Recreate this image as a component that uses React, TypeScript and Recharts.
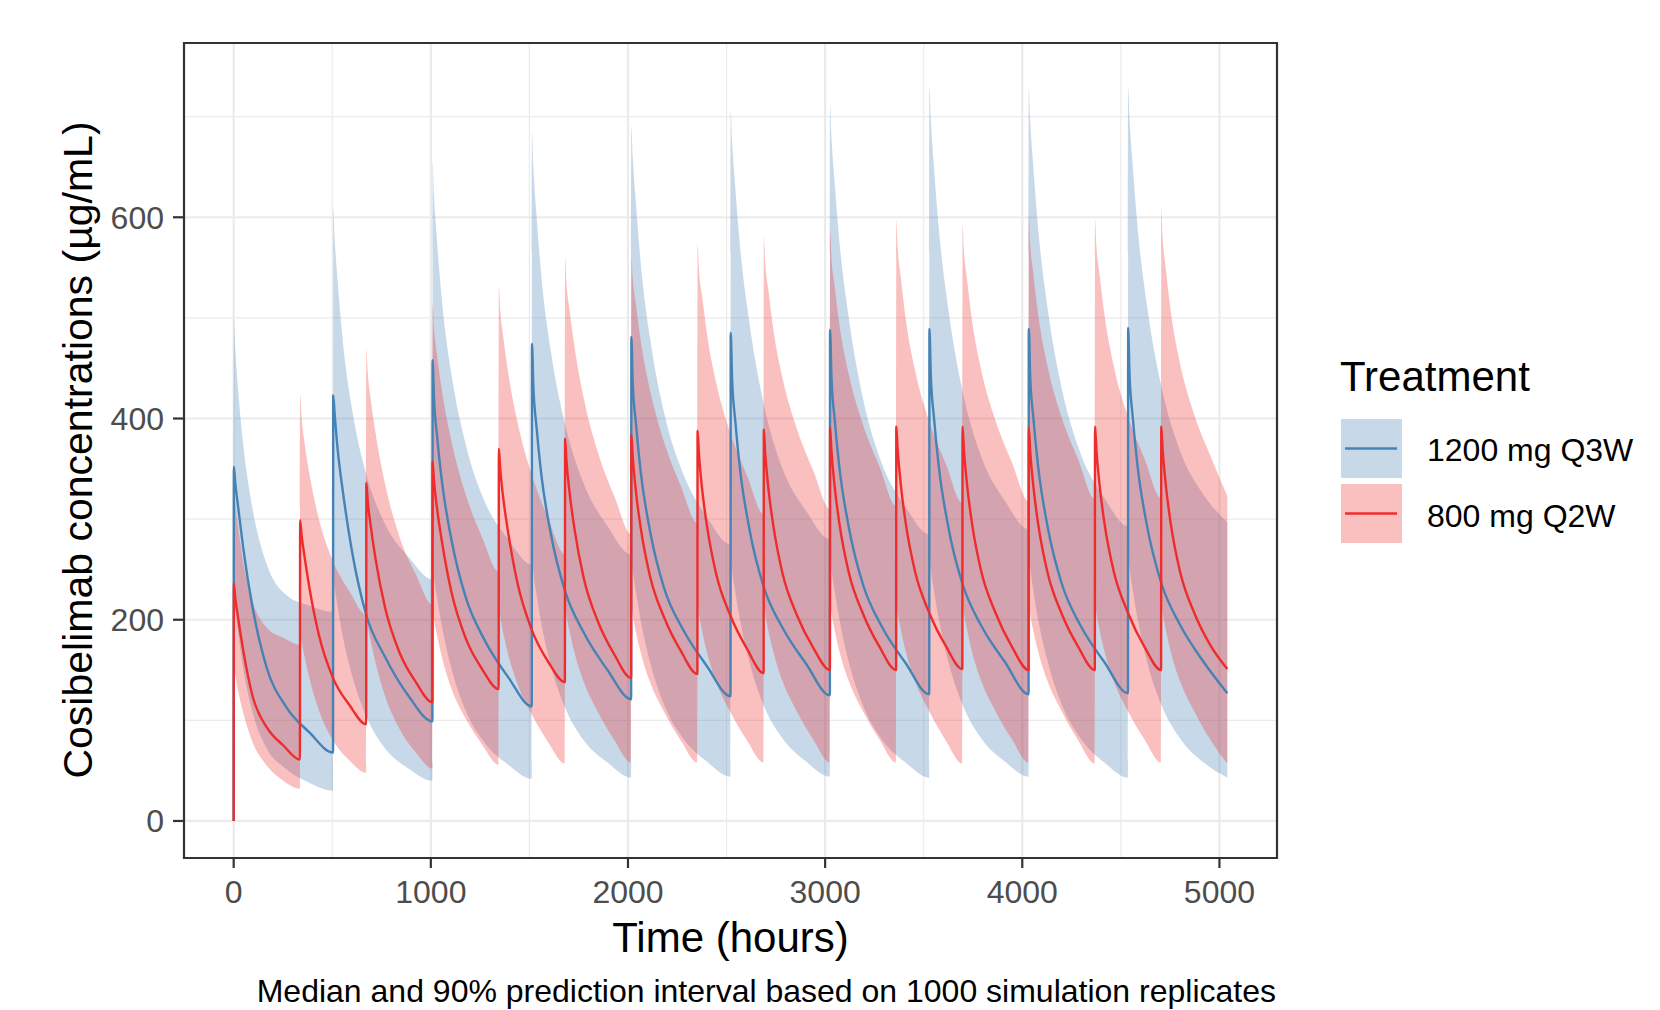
import React from 'react';
import { ComposedChart, Line, Area, XAxis, YAxis, CartesianGrid, ReferenceArea } from 'recharts';

// axis breaks
const xTicks = [0, 1000, 2000, 3000, 4000, 5000];
const xMinor = [500, 1500, 2500, 3500, 4500];
const yTicks = [0, 200, 400, 600];
const yMinor = [100, 300, 500, 700];

// 1200 mg Q3W: dose times (h) and sample offsets after each dose (h)
// offset 1 = end of infusion (peak), last offset = pre-dose trough of the next dose
const blueDoses = [0, 504, 1008, 1512, 2016, 2520, 3024, 3528, 4032, 4536];
const blueOffsets = [1, 8, 24, 48, 96, 168, 264, 384, 504];

const blueMedian = [
  [352, 336, 310, 272, 212, 152, 114, 88, 68],
  [423, 405, 368, 330, 268, 205, 163, 124, 99],
  [458, 420, 382, 338, 280, 223, 180, 143, 114],
  [474, 432, 392, 345, 286, 229, 187, 150, 121],
  [481, 436, 396, 348, 288, 231, 190, 154, 124],
  [485, 440, 398, 350, 290, 233, 192, 156, 125],
  [488, 442, 400, 352, 292, 235, 193, 157, 126],
  [489, 443, 401, 353, 293, 236, 194, 158, 126],
  [489, 443, 401, 353, 293, 236, 194, 158, 127],
  [490, 444, 402, 354, 294, 237, 195, 158, 127],
];

const blueLower = [
  [230, 212, 185, 152, 108, 72, 52, 38, 30],
  [248, 234, 212, 185, 145, 104, 72, 52, 40],
  [258, 243, 221, 194, 152, 110, 78, 56, 42],
  [262, 247, 225, 197, 155, 113, 80, 58, 43],
  [265, 250, 228, 200, 158, 115, 82, 59, 44],
  [265, 250, 228, 200, 158, 115, 82, 59, 44],
  [266, 251, 229, 201, 158, 115, 81, 58, 43],
  [266, 251, 229, 201, 159, 116, 82, 59, 44],
  [267, 252, 229, 201, 159, 116, 82, 58, 43],
  [267, 252, 230, 202, 159, 116, 82, 58, 43],
];

const blueUpper = [
  [500, 470, 425, 375, 310, 255, 225, 214, 208],
  [610, 580, 535, 480, 410, 345, 295, 262, 240],
  [655, 622, 575, 518, 445, 375, 318, 280, 255],
  [685, 650, 602, 543, 468, 395, 335, 293, 265],
  [691, 660, 615, 556, 480, 405, 345, 302, 275],
  [705, 675, 630, 572, 495, 415, 350, 308, 280],
  [711, 680, 635, 577, 500, 420, 355, 312, 285],
  [731, 698, 650, 590, 510, 428, 362, 318, 290],
  [729, 697, 650, 590, 510, 430, 365, 321, 293],
  [730, 698, 652, 592, 513, 433, 368, 324, 297],
];

// 800 mg Q2W
const redDoses = [0, 336, 672, 1008, 1344, 1680, 2016, 2352, 2688, 3024, 3360, 3696, 4032, 4368, 4704];
const redOffsets = [1, 8, 24, 48, 96, 168, 252, 336];

const redMedian = [
  [236, 222, 200, 170, 124, 93, 75, 61],
  [299, 285, 262, 232, 185, 142, 115, 96],
  [336, 318, 292, 260, 212, 168, 138, 118],
  [357, 338, 310, 278, 228, 182, 151, 131],
  [370, 350, 320, 287, 236, 190, 158, 138],
  [380, 358, 326, 291, 241, 198, 165, 142],
  [384, 362, 328, 292, 243, 202, 169, 146],
  [388, 365, 330, 294, 245, 204, 171, 147],
  [389, 366, 331, 295, 246, 205, 172, 150],
  [391, 368, 333, 296, 247, 206, 173, 150],
  [392, 369, 334, 297, 248, 207, 174, 151],
  [392, 369, 334, 297, 248, 207, 173, 150],
  [391, 368, 333, 296, 247, 206, 173, 150],
  [392, 369, 334, 297, 248, 207, 173, 150],
  [392, 369, 334, 297, 248, 207, 174, 151],
];

const redLower = [
  [155, 145, 128, 108, 78, 55, 40, 32],
  [190, 180, 163, 142, 110, 80, 60, 48],
  [205, 195, 178, 157, 124, 92, 68, 52],
  [210, 200, 184, 163, 132, 102, 76, 56],
  [213, 203, 186, 166, 136, 106, 78, 57],
  [215, 205, 188, 168, 138, 108, 80, 58],
  [215, 205, 188, 168, 138, 108, 80, 58],
  [216, 206, 189, 168, 138, 108, 80, 58],
  [216, 206, 189, 169, 139, 109, 81, 58],
  [217, 207, 190, 169, 139, 109, 81, 58],
  [217, 207, 190, 169, 139, 109, 80, 57],
  [217, 207, 190, 169, 139, 109, 81, 58],
  [216, 206, 189, 169, 139, 109, 80, 57],
  [217, 207, 190, 169, 139, 109, 81, 58],
  [217, 207, 190, 169, 139, 109, 80, 57],
];

const redUpper = [
  [340, 318, 290, 258, 218, 192, 182, 175],
  [424, 402, 375, 345, 300, 258, 228, 205],
  [469, 446, 418, 385, 335, 283, 245, 215],
  [513, 490, 462, 428, 378, 325, 282, 248],
  [532, 508, 480, 446, 396, 344, 300, 265],
  [560, 535, 507, 472, 420, 366, 322, 285],
  [564, 540, 514, 478, 428, 376, 333, 296],
  [574, 548, 522, 485, 435, 385, 343, 305],
  [581, 555, 528, 490, 440, 390, 348, 310],
  [586, 560, 532, 494, 444, 394, 352, 313],
  [597, 570, 540, 500, 448, 397, 355, 316],
  [593, 567, 538, 499, 448, 398, 356, 318],
  [601, 574, 544, 504, 452, 401, 359, 320],
  [598, 572, 543, 504, 452, 402, 360, 321],
  [608, 580, 549, 508, 455, 404, 362, 323],
];

type Row = { t: number; median: number; band: [number, number] };

const buildRows = (doses: number[], offsets: number[], med: number[][], lo: number[][], hi: number[][]): Row[] => {
  const rows: Row[] = [{ t: 0, median: 0, band: [0, 0] }];
  doses.forEach((d, i) => {
    offsets.forEach((o, j) => {
      rows.push({ t: d + o, median: med[i][j], band: [lo[i][j], hi[i][j]] });
    });
  });
  return rows;
};

const blueRows = buildRows(blueDoses, blueOffsets, blueMedian, blueLower, blueUpper);
const redRows = buildRows(redDoses, redOffsets, redMedian, redLower, redUpper);

const BLUE = '#4682B4';
const RED = '#EE2C2C';
const FONT = '"Liberation Sans", Arial, sans-serif';

const X_DOMAIN: [number, number] = [-252, 5292];
const Y_DOMAIN: [number, number] = [-36.8, 773.2];

const App: React.FC = () => {
  return (
    <div style={{ position: 'absolute', left: 0, top: 0, width: 1660, height: 1010, background: '#fff', fontFamily: FONT }}>
      <ComposedChart
        width={1660}
        height={1010}
        margin={{ top: 43, right: 383, bottom: 92, left: 124 }}
      >
        <CartesianGrid stroke="#EBEBEB" strokeWidth={1.2} horizontalValues={yMinor} verticalValues={xMinor} />
        <CartesianGrid stroke="#EBEBEB" strokeWidth={2.2} />
        <XAxis
          type="number"
          dataKey="t"
          domain={X_DOMAIN}
          ticks={xTicks}
          allowDataOverflow
          axisLine={false}
          height={60}
          tickSize={10}
          tickMargin={12}
          tickLine={{ stroke: '#333333', strokeWidth: 2.2 }}
          tick={{ fontSize: 32, fill: '#4D4D4D', fontFamily: FONT }}
          interval={0}
        />
        <YAxis
          type="number"
          domain={Y_DOMAIN}
          ticks={yTicks}
          allowDataOverflow
          axisLine={false}
          width={60}
          tickSize={11}
          tickMargin={9}
          tickLine={{ stroke: '#333333', strokeWidth: 2.2 }}
          tick={{ fontSize: 32, fill: '#4D4D4D', fontFamily: FONT }}
          interval={0}
        />
        {/* medians first, ribbons on top (as in the original plot) */}
        <Line data={blueRows} dataKey="median" type="monotoneX" stroke={BLUE} strokeWidth={2.4} dot={false} isAnimationActive={false} />
        <Line data={redRows} dataKey="median" type="monotoneX" stroke={RED} strokeWidth={2.4} dot={false} isAnimationActive={false} />
        <Area data={blueRows} dataKey="band" type="monotoneX" stroke="none" fill={BLUE} fillOpacity={0.3} isAnimationActive={false} />
        <Area data={redRows} dataKey="band" type="monotoneX" stroke="none" fill={RED} fillOpacity={0.3} isAnimationActive={false} />
        <ReferenceArea x1={X_DOMAIN[0]} x2={X_DOMAIN[1]} y1={Y_DOMAIN[0]} y2={Y_DOMAIN[1]} fill="none" stroke="#333333" strokeWidth={2.2} />
      </ComposedChart>

      <svg width={1660} height={1010} style={{ position: 'absolute', left: 0, top: 0, pointerEvents: 'none' }} fontFamily={FONT}>
        <text x={92} y={450} transform="rotate(-90 92 450)" textAnchor="middle" fontSize={41} fill="#000">
          Cosibelimab concentrations (µg/mL)
        </text>
        <text x={730.5} y={952} textAnchor="middle" fontSize={42} fill="#000">
          Time (hours)
        </text>
        <text x={1276} y={1002} textAnchor="end" fontSize={32} fill="#000">
          Median and 90% prediction interval based on 1000 simulation replicates
        </text>

        <text x={1340} y={391} fontSize={42} fill="#000">Treatment</text>
        <rect x={1341} y={419} width={61} height={59} fill={BLUE} fillOpacity={0.3} />
        <line x1={1345} x2={1397} y1={448.5} y2={448.5} stroke={BLUE} strokeWidth={2.4} />
        <text x={1427} y={461} fontSize={32} fill="#000">1200 mg Q3W</text>
        <rect x={1341} y={484} width={61} height={59} fill={RED} fillOpacity={0.3} />
        <line x1={1345} x2={1397} y1={513.5} y2={513.5} stroke={RED} strokeWidth={2.4} />
        <text x={1427} y={527} fontSize={32} fill="#000">800 mg Q2W</text>
      </svg>
    </div>
  );
};

export default App;
